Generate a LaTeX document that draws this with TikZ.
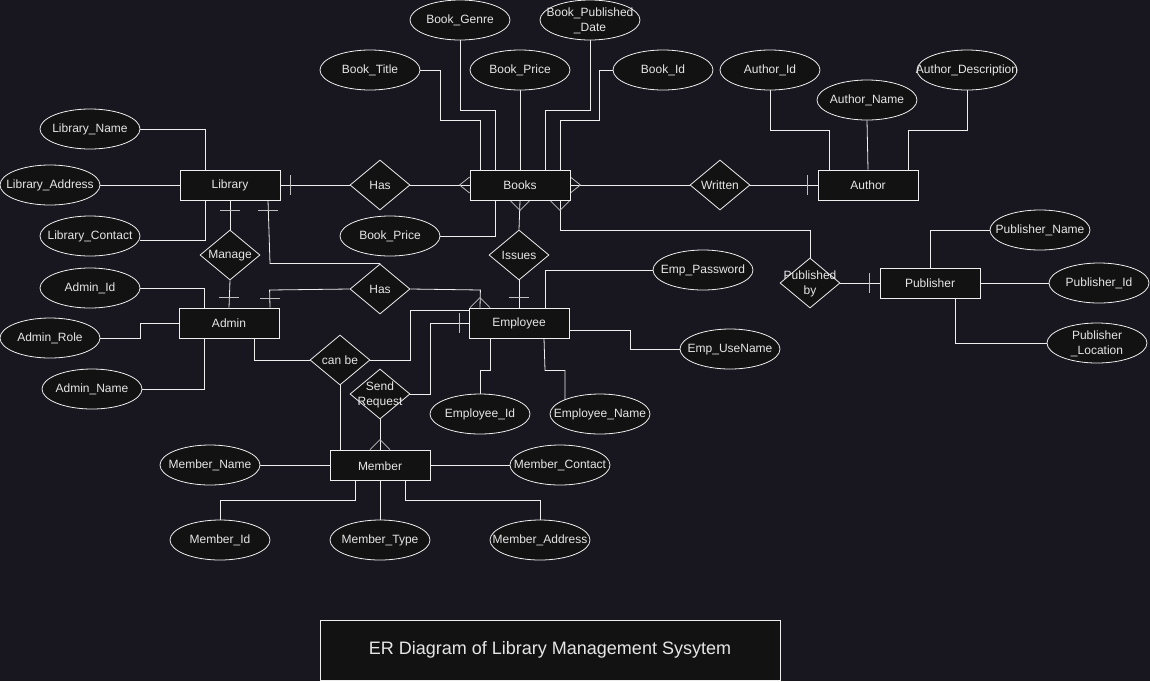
\documentclass[tikz,border=0pt]{standalone}
\usepackage{fontspec}
\setmainfont{Liberation Sans}
\usetikzlibrary{shapes.geometric}
\definecolor{bgc}{HTML}{18161F}
\definecolor{nfill}{HTML}{121212}
\definecolor{lnc}{HTML}{EEEEEE}
\definecolor{txc}{HTML}{E6E6E6}
\pgfdeclarelayer{bglayer}
\pgfdeclarelayer{edgelayer}
\pgfsetlayers{bglayer,edgelayer,main}
\begin{document}
\begin{tikzpicture}[x=1pt,y=-1pt,
  every label/.style={align=center,text=txc,font=\fontsize{12}{15}\selectfont,inner sep=0pt,yshift=-0.7pt},
  ent/.style={draw=lnc,fill=nfill,line width=0.8pt,minimum width=100,minimum height=30,inner sep=0pt},
  attr/.style={ellipse,draw=lnc,fill=nfill,line width=0.8pt,minimum width=100,minimum height=40,inner sep=0pt},
  rel/.style={diamond,draw=lnc,fill=nfill,line width=0.8pt,minimum width=60,minimum height=50,inner sep=0pt},
  conn/.style={draw=lnc,line width=0.8pt},
  ermark/.style={draw=lnc!80!black,line width=0.8pt}
]
\begin{pgfonlayer}{bglayer}
\fill[bgc] (0,0) rectangle (1150,681);
\end{pgfonlayer}
\useasboundingbox (0,0) rectangle (1150,681);

% entities
\node[ent,label=center:Library] (lib) at (230,185) {};
\node[ent,label=center:Books] (books) at (520,185) {};
\node[ent,label=center:Author] (author) at (868,185) {};
\node[ent,label=center:Admin] (admin) at (229,323) {};
\node[ent,label=center:Employee] (emp) at (519,323) {};
\node[ent,label=center:Publisher] (pub) at (930,283) {};
\node[ent,label=center:Member] (member) at (380,465) {};

% relationships
\node[rel,label=center:Has] (has1) at (380,185) {};
\node[rel,label=center:Written] (written) at (720,185) {};
\node[rel,label=center:Manage] (manage) at (230,255) {};
\node[rel,label=center:Issues] (issues) at (519,255) {};
\node[rel,label=center:Has] (has2) at (380,289) {};
\node[rel,label=center:{can be}] (canbe) at (340,360) {};
\node[rel,label=center:{Send\\Request}] (sr) at (380,394) {};
\node[rel,label=center:{Published\\by}] (pubby) at (810,283) {};

% attributes
\node[attr,label=center:{Book\_Genre}] (bg) at (460,20) {};
\node[attr,label=center:{Book\_Published\\\_Date}] (bpd) at (590,20) {};
\node[attr,label=center:{Book\_Title}] (bt) at (370,70) {};
\node[attr,label=center:{Book\_Price}] (bp) at (520,70) {};
\node[attr,label=center:{Book\_Id}] (bid) at (663,70) {};
\node[attr,label=center:{Author\_Id}] (auid) at (770,70) {};
\node[attr,label=center:{Author\_Name}] (auname) at (867,100) {};
\node[attr,label=center:{Author\_Description}] (audesc) at (967,70) {};
\node[attr,label=center:{Library\_Name}] (lname) at (90,129) {};
\node[attr,label=center:{Library\_Address}] (laddr) at (50,185) {};
\node[attr,label=center:{Library\_Contact}] (lcont) at (90,236) {};
\node[attr,label=center:{Book\_Price}] (bp2) at (390,236) {};
\node[attr,label=center:{Admin\_Id}] (adid) at (90,288) {};
\node[attr,label=center:{Admin\_Role}] (adrole) at (50,338) {};
\node[attr,label=center:{Admin\_Name}] (adname) at (92,389) {};
\node[attr,label=center:{Emp\_Password}] (epass) at (703,270) {};
\node[attr,label=center:{Emp\_UseName}] (euser) at (730,349) {};
\node[attr,label=center:{Employee\_Id}] (eid) at (480,414) {};
\node[attr,label=center:{Employee\_Name}] (ename) at (600,414) {};
\node[attr,label=center:{Publisher\_Name}] (pname) at (1040,230) {};
\node[attr,label=center:{Publisher\_Id}] (pid) at (1099,283) {};
\node[attr,label=center:{Publisher\\\_Location}] (ploc) at (1097,343) {};
\node[attr,label=center:{Member\_Name}] (mname) at (210,465) {};
\node[attr,label=center:{Member\_Contact}] (mcont) at (560,465) {};
\node[attr,label=center:{Member\_Id}] (mid) at (220,540) {};
\node[attr,label=center:{Member\_Type}] (mtype) at (380,540) {};
\node[attr,label=center:{Member\_Address}] (maddr) at (540,540) {};

% title
\node[draw=lnc,fill=nfill,line width=0.8pt,minimum width=460,minimum height=60,inner sep=0pt,
  text=txc,font=\fontsize{18}{22}\selectfont] (title) at (550,650) {ER Diagram of Library Management Sysytem};

\begin{pgfonlayer}{edgelayer}
% library
\draw[conn] (lname.east) -| ([xshift=-25pt]lib.north);
\draw[conn] (laddr.east) -- (lib.west);
\draw[conn] (lcont.east) ++(0,4) -| ([xshift=-25pt]lib.south);
\draw[conn] (lib.east) -- (has1.west);
\draw[conn] (has1.east) -- (books.west);
\draw[conn] (books.east) -- (written.west);
\draw[conn] (written.east) -- (author.west);
\draw[conn] (lib.south) -- (manage.north);
\draw[conn] (manage.south) -- (admin.north);
\draw[conn] ([xshift=38pt]lib.south) -- ++(2,63) -| (has2.north);
\draw[conn] (has2.west) -- ++(-80,1) -- ([xshift=41pt]admin.north);
\draw[conn] (has2.east) -- ++(70,1) -- ([xshift=-39pt]emp.north);
% books attributes
\draw[conn] (bt.east) -- ++(20,0) -- ++(0,50) -| ([xshift=-40pt]books.north);
\draw[conn] (bg.south) -- ++(0,70) -| ([xshift=-25pt]books.north);
\draw[conn] (bp.south) -- (books.north);
\draw[conn] (bpd.south) -- ++(0,70) -| ([xshift=25pt]books.north);
\draw[conn] (bid.west) -- ++(-13,0) -- ++(0,50) -| ([xshift=40pt]books.north);
\draw[conn] (bp2.east) -| ([xshift=-25pt]books.south);
\draw[conn] ([xshift=40pt]books.south) -- ++(0,30) -| (pubby.north);
\draw[conn] (books.south) -- (issues.north);
\draw[conn] (issues.south) -- (emp.north);
% author
\draw[conn] (auid.south) -- ++(0,40) -| ([xshift=-39pt]author.north);
\draw[conn] (auname.south) -- (author.north);
\draw[conn] (audesc.south) -- ++(0,40) -| ([xshift=40pt]author.north);
% publisher
\draw[conn] (pubby.east) -- (pub.west);
\draw[conn] (pname.west) -| (pub.north);
\draw[conn] (pub.east) -- (pid.west);
\draw[conn] ([xshift=25pt]pub.south) |- (ploc.west);
% admin
\draw[conn] (adid.east) -| ([xshift=-25pt]admin.north);
\draw[conn] (adrole.east) -- ++(40,0) |- (admin.west);
\draw[conn] (adname.east) -| ([xshift=-25pt]admin.south);
\draw[conn] ([xshift=25pt]admin.south) |- (canbe.west);
\draw[conn] (canbe.east) -- ++(40,0) |- ([yshift=13pt]emp.west);
\draw[conn] (canbe.south) -- ([xshift=-40pt]member.north);
\draw[conn] (sr.east) -- ++(20,0) |- (emp.west);
\draw[conn] (sr.south) -- (member.north);
% employee
\draw[conn] (epass.west) -| ([xshift=26pt]emp.north);
\draw[conn] ([yshift=-7pt]emp.east) -- ++(61,0) |- (euser.west);
\draw[conn] ([xshift=-29pt]emp.south) -- ++(0,32) -| (eid.north);
\draw[conn] ([xshift=25pt]emp.south) -- ++(1,32) -- ++(20,0) -- ++(0,32);
% member
\draw[conn] (mname.east) -- (member.west);
\draw[conn] (member.east) -- (mcont.west);
\draw[conn] ([xshift=-25pt]member.south) -- ++(0,20) -| (mid.north);
\draw[conn] (member.south) -- (mtype.north);
\draw[conn] ([xshift=25pt]member.south) -- ++(0,20) -| (maddr.north);

% one marks
\draw[ermark] ([xshift=10pt]lib.east) ++(0,-10) -- ++(0,20);
\draw[ermark] ([xshift=-10pt]author.west) ++(0,-10) -- ++(0,20);
\draw[ermark] ([xshift=-10pt]pub.west) ++(0,-10) -- ++(0,20);
\draw[ermark] ([xshift=-9pt]emp.west) ++(0,-10) -- ++(0,20);
\draw[ermark] ([yshift=-10pt]lib.south) ++(-10,0) -- ++(20,0);
\draw[ermark] ([xshift=38pt,yshift=-10pt]lib.south) ++(-10,0) -- ++(20,0);
\draw[ermark] ([yshift=10pt]admin.north) ++(-10,0) -- ++(20,0);
\draw[ermark] ([xshift=41pt,yshift=9pt]admin.north) ++(-10,0) -- ++(20,0);
\draw[ermark] ([yshift=10pt]emp.north) ++(-10,0) -- ++(20,0);
% many marks
\draw[ermark] ([yshift=-8pt]books.west) -- ++(-10,-8) -- ++(10,-8);
\draw[ermark] ([yshift=-8pt]books.east) -- ++(10,-8) -- ++(-10,-8);
\draw[ermark] ([xshift=-10pt]books.south) -- ++(10,10) -- ++(10,-10);
\draw[ermark] ([xshift=30pt]books.south) -- ++(10,10) -- ++(10,-10);
\draw[ermark] ([xshift=-49pt]emp.north) -- ++(10,-10) -- ++(10,10);
\draw[ermark] ([xshift=-10pt]member.north) -- ++(10,-10) -- ++(10,10);
\end{pgfonlayer}
\end{tikzpicture}
\end{document}
